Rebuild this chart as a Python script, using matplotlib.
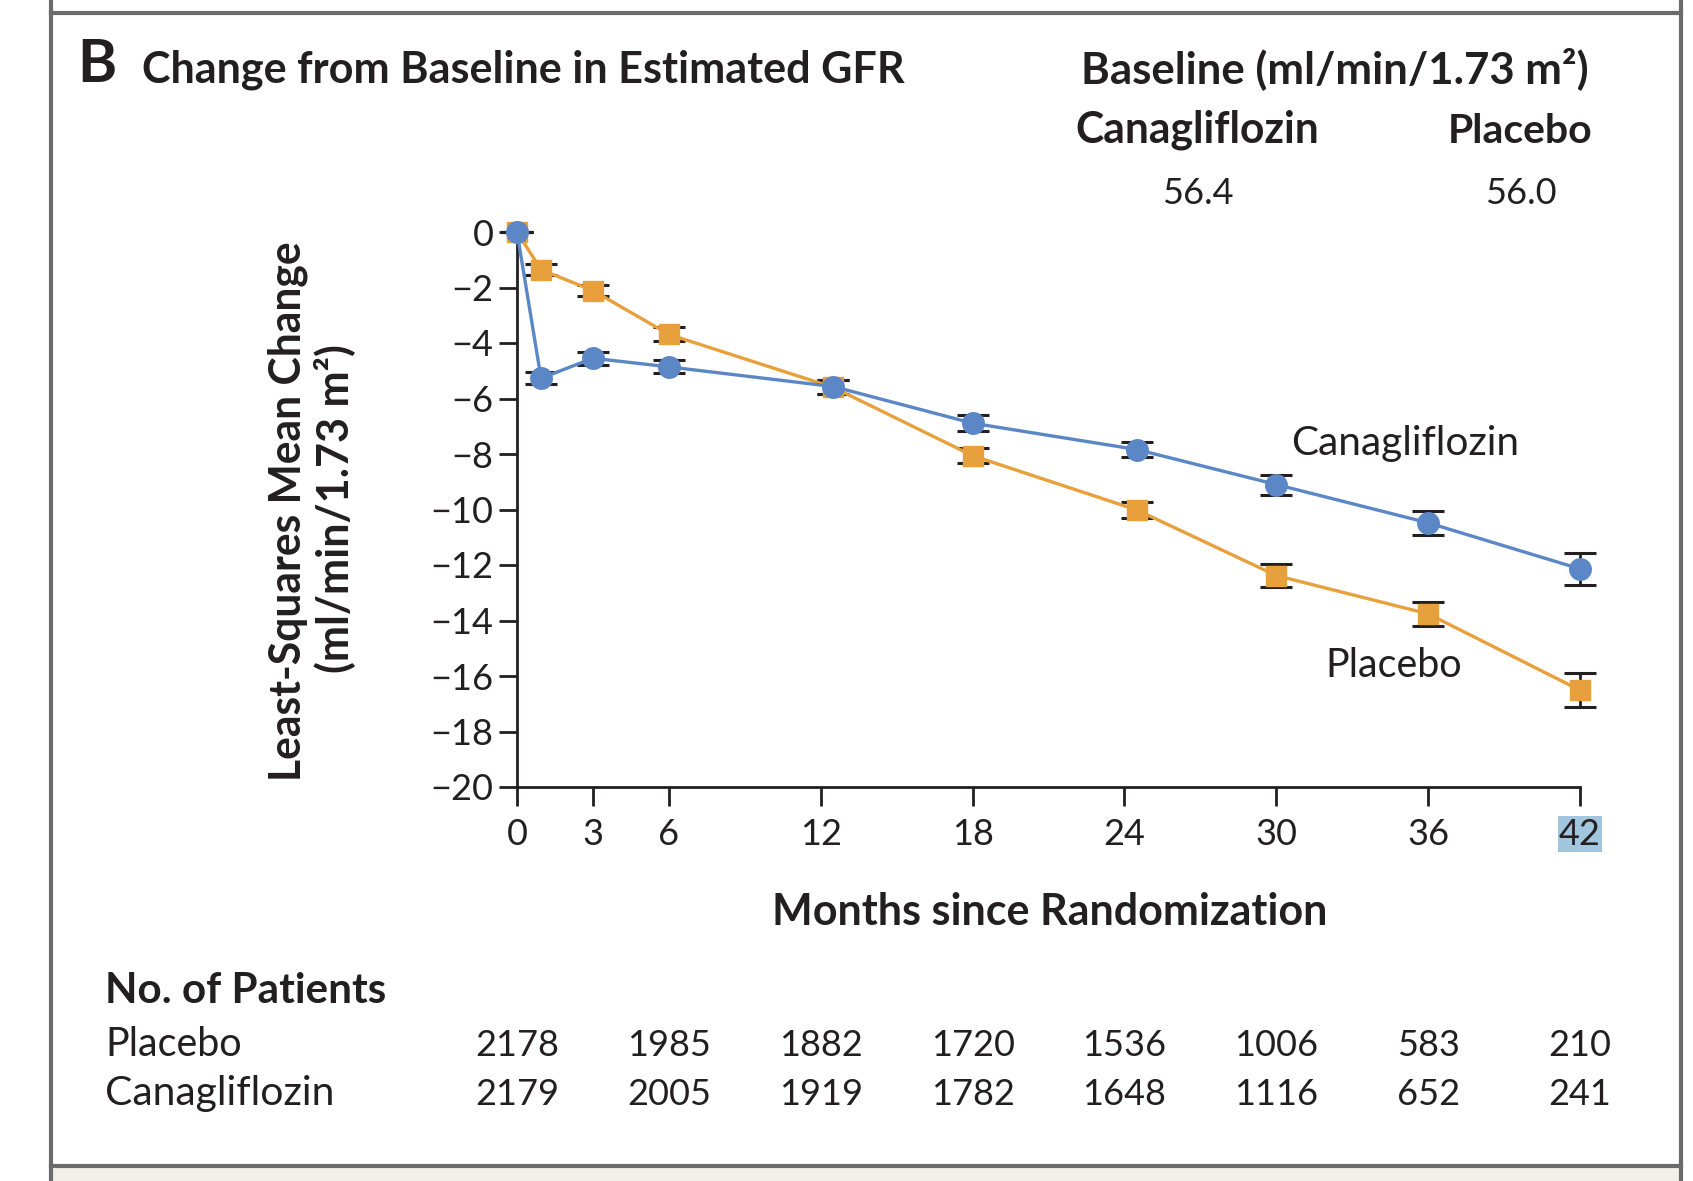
import matplotlib
matplotlib.use("Agg")
import matplotlib.pyplot as plt
import matplotlib.transforms as mtrans
from matplotlib.lines import Line2D
from matplotlib.patches import Rectangle

plt.rcParams['font.family'] = ['Lato', 'DejaVu Sans']

# ---------------- data ----------------
months = [0, 0.95, 3, 6, 12.5, 18, 24.5, 30, 36, 42]
cana_change = [0, -5.27, -4.55, -4.86, -5.57, -6.89, -7.84, -9.10, -10.48, -12.14]
cana_err = [0, 0.21, 0.23, 0.23, 0.25, 0.29, 0.27, 0.36, 0.44, 0.57]
placebo_change = [0, -1.36, -2.11, -3.69, -5.60, -8.06, -10.02, -12.38, -13.76, -16.51]
placebo_err = [0, 0.20, 0.21, 0.25, 0.25, 0.27, 0.29, 0.41, 0.43, 0.62]

xticks = [0, 3, 6, 12, 18, 24, 30, 36, 42]
yticks = [0, -2, -4, -6, -8, -10, -12, -14, -16, -18, -20]

risk_months = [0, 6, 12, 18, 24, 30, 36, 42]
placebo_n = [2178, 1985, 1882, 1720, 1536, 1006, 583, 210]
cana_n = [2179, 2005, 1919, 1782, 1648, 1116, 652, 241]

baseline_cana = "56.4"
baseline_placebo = "56.0"

BLUE = '#5b87c6'
ORANGE = '#e7a03b'
INK = '#231f20'
FRAME = '#6b6b6b'

W, H = 1693, 1181
fig = plt.figure(figsize=(W / 100, H / 100), dpi=100)
fig.patch.set_facecolor('white')
renderer = fig.canvas.get_renderer()


def fx(px):
    return px / W


def fy(py):
    return 1 - py / H


def fit_text(x, y, s, target_w, rot=0, **kw):
    t = fig.text(fx(x), fy(y), s, fontsize=20, rotation=rot, **kw)
    bb = t.get_window_extent(renderer)
    w = bb.height if rot else bb.width
    t.set_fontsize(20 * target_w / w)
    return t


# ---------------- frame ----------------
fig.add_artist(Rectangle((fx(51), 0), fx(1681) - fx(51), fy(1167), transform=fig.transFigure,
                         facecolor='#f2efe9', edgecolor='none', zorder=0))
for xx in (51, 1681):
    fig.add_artist(Line2D([fx(xx), fx(xx)], [0, 1], transform=fig.transFigure,
                          color=FRAME, lw=3, zorder=1))
for yy in (13, 1166):
    fig.add_artist(Line2D([fx(51), fx(1681)], [fy(yy), fy(yy)], transform=fig.transFigure,
                          color=FRAME, lw=3, zorder=1))

# ---------------- axes ----------------
x0, x1, y0, y1 = 517, 1580, 232, 787
ax = fig.add_axes([fx(x0), fy(y1), fx(x1) - fx(x0), (y1 - y0) / H])
ax.set_xlim(0, 42)
ax.set_ylim(-20, 0)
for sp in ('top', 'right'):
    ax.spines[sp].set_visible(False)
for sp in ('left', 'bottom'):
    ax.spines[sp].set_linewidth(2)
    ax.spines[sp].set_color(INK)
ax.set_xticks(xticks)
ax.set_yticks(yticks)
ax.set_yticklabels(['0' if v == 0 else '\u2212%d' % abs(v) for v in yticks])
ax.tick_params(axis='y', direction='out', length=13, width=2, color=INK,
               labelsize=26, pad=4, labelcolor=INK)
ax.tick_params(axis='x', direction='out', length=14, width=2, color=INK,
               labelsize=26, pad=8, labelcolor=INK)
ax.patch.set_alpha(0)

for lab in ax.get_xticklabels():
    if lab.get_text() == '42':
        lab.set_bbox(dict(facecolor='#a3c6df', edgecolor='none', pad=1.0))

# error bars
ax.errorbar(months, placebo_change, yerr=placebo_err, fmt='none', ecolor=INK,
            elinewidth=2, capsize=11.5, capthick=2.2, zorder=2, clip_on=False)
ax.errorbar(months, cana_change, yerr=cana_err, fmt='none', ecolor=INK,
            elinewidth=2, capsize=11.5, capthick=2.2, zorder=2, clip_on=False)
# series
ax.plot(months, placebo_change, color=ORANGE, lw=2.4, marker='s', markersize=15,
        markerfacecolor=ORANGE, markeredgecolor=ORANGE, zorder=3, clip_on=False)
ax.plot(months, cana_change, color=BLUE, lw=2.4, marker='o', markersize=15.5,
        markerfacecolor=BLUE, markeredgecolor=BLUE, zorder=4, clip_on=False)

# ---------------- texts ----------------
fig.text(fx(77), fy(82), 'B', fontsize=43, fontweight='bold', color=INK, va='baseline', ha='left')
fit_text(142, 82, 'Change from Baseline in Estimated GFR', 762, fontweight='bold',
         color=INK, va='baseline', ha='left')
fit_text(1335, 83, 'Baseline (ml/min/1.73 m\u00b2)', 507, fontweight='bold',
         color=INK, va='baseline', ha='center')
fit_text(1197, 143, 'Canagliflozin', 244, fontweight='bold', color=INK, va='baseline', ha='center')
fit_text(1520, 143, 'Placebo', 145, fontweight='bold', color=INK, va='baseline', ha='center')
fig.text(fx(1198), fy(204), baseline_cana, fontsize=26, color=INK, va='baseline', ha='center')
fig.text(fx(1521), fy(204), baseline_placebo, fontsize=26, color=INK, va='baseline', ha='center')

fit_text(288, 511, 'Least-Squares Mean Change', 540, rot=90, fontweight='bold',
         color=INK, va='center', ha='center')
fit_text(334, 509, '(ml/min/1.73 m\u00b2)', 328, rot=90, fontweight='bold',
         color=INK, va='center', ha='center')

fit_text(1050, 925, 'Months since Randomization', 554, fontweight='bold',
         color=INK, va='baseline', ha='center')

fit_text(1291, 455, 'Canagliflozin', 229, color=INK, va='baseline', ha='left')
fit_text(1325, 677, 'Placebo', 137, color=INK, va='baseline', ha='left')

fit_text(105, 1003, 'No. of Patients', 282, fontweight='bold', color=INK, va='baseline', ha='left')
fit_text(105, 1056, 'Placebo', 137, color=INK, va='baseline', ha='left')
fit_text(105, 1105, 'Canagliflozin', 230, color=INK, va='baseline', ha='left')

tr = mtrans.blended_transform_factory(ax.transData, fig.transFigure)
for m, n in zip(risk_months, placebo_n):
    fig.text(m, fy(1056), str(n), transform=tr, fontsize=26, color=INK, va='baseline', ha='center')
for m, n in zip(risk_months, cana_n):
    fig.text(m, fy(1105), str(n), transform=tr, fontsize=26, color=INK, va='baseline', ha='center')

fig.savefig('out.png', dpi=100, facecolor='white')
